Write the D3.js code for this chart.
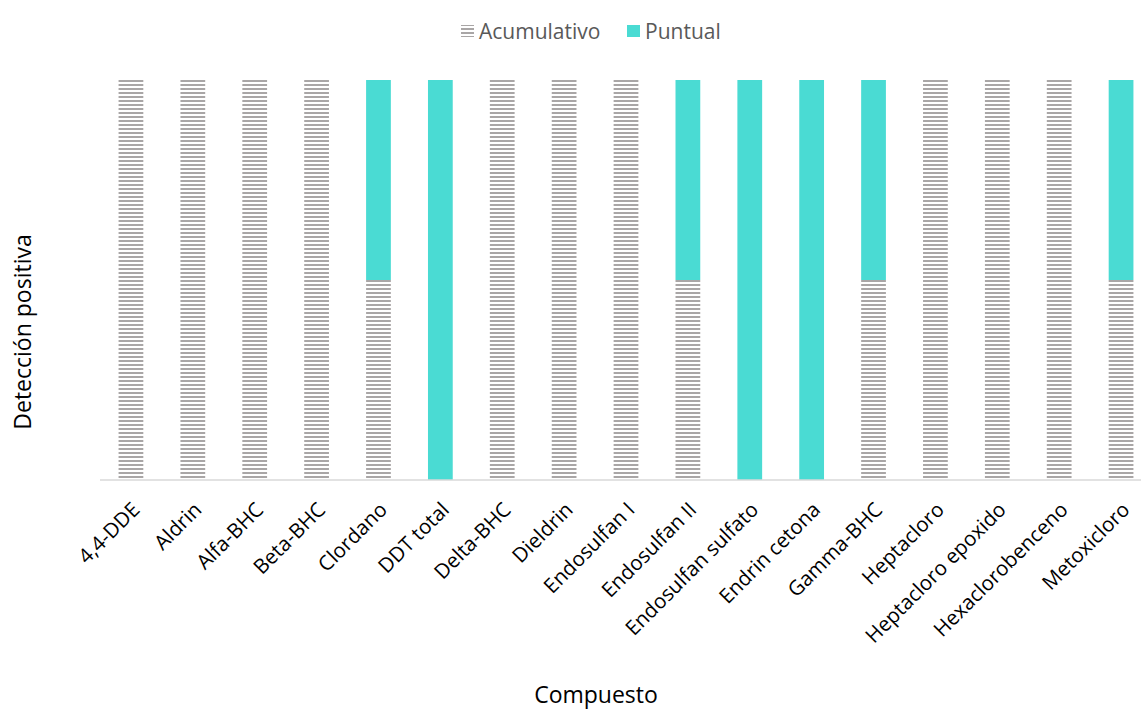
<!DOCTYPE html>
<html>
<head>
<meta charset="utf-8">
<script src="https://cdn.jsdelivr.net/npm/d3@7"></script>
<style>
  html, body { margin: 0; padding: 0; background: #fff; }
  svg { display: block; }
  svg text { font-family: "Open Sans", Lato, sans-serif; }
</style>
</head>
<body>
<svg id="chart" width="1141" height="709"></svg>
<script>
// Compounds on the x axis
const categories = [
  "4,4-DDE", "Aldrin", "Alfa-BHC", "Beta-BHC", "Clordano", "DDT total",
  "Delta-BHC", "Dieldrin", "Endosulfan I", "Endosulfan II", "Endosulfan sulfato",
  "Endrin cetona", "Gamma-BHC", "Heptacloro", "Heptacloro epoxido",
  "Hexaclorobenceno", "Metoxicloro"
];
// Positive-detection share by sampling type
const acumulativo = [1, 1, 1, 1, 0.5, 0, 1, 1, 1, 0.5, 0, 0, 0.5, 1, 1, 1, 0.5];
const puntual     = [0, 0, 0, 0, 0.5, 1, 0, 0, 0, 0.5, 1, 1, 0.5, 0, 0, 0, 0.5];
const seriesNames = ["Acumulativo", "Puntual"];

const svg = d3.select("#chart");
const plot = { left: 100, right: 1152, top: 80, bottom: 480 };

// Horizontal-line fill for the Acumulativo series
const defs = svg.append("defs");
const pat = defs.append("pattern")
  .attr("id", "hlines").attr("patternUnits", "userSpaceOnUse")
  .attr("width", 8).attr("height", 4);
pat.append("rect").attr("width", 8).attr("height", 4).attr("fill", "#ffffff");
pat.append("rect").attr("y", 0).attr("width", 8).attr("height", 2).attr("fill", "#a9a6a6");

const fills = { Acumulativo: "url(#hlines)", Puntual: "#4adbd3" };

const x = d3.scaleBand().domain(categories)
  .range([plot.left, plot.right]).paddingInner(0.6).paddingOuter(0.3);
const y = d3.scaleLinear().domain([0, 1]).range([plot.bottom, plot.top]);

const rows = categories.map((c, i) => ({ cat: c, Acumulativo: acumulativo[i], Puntual: puntual[i] }));
const stacked = d3.stack().keys(seriesNames)(rows);

svg.append("g").selectAll("g").data(stacked).join("g")
  .attr("fill", d => fills[d.key])
  .selectAll("rect").data(d => d).join("rect")
  .attr("x", d => x(d.data.cat))
  .attr("width", x.bandwidth())
  .attr("y", d => y(d[1]))
  .attr("height", d => y(d[0]) - y(d[1]));

// Category axis
const xAxis = svg.append("g").attr("transform", `translate(0,${plot.bottom})`)
  .call(d3.axisBottom(x).tickSize(0).tickPadding(0));
xAxis.attr("font-family", null);
xAxis.select(".domain").attr("stroke", "#d9d9d9").attr("stroke-width", 1.5)
  .attr("d", `M${plot.left},0H${plot.right}`);
xAxis.selectAll(".tick text")
  .attr("font-size", 20.5).attr("fill", "#000")
  .attr("text-anchor", "end")
  .attr("dy", null).attr("y", 0)
  .attr("transform", "translate(10,31) rotate(-45)");

// Axis titles
svg.append("text").attr("x", 596).attr("y", 703)
  .attr("text-anchor", "middle").attr("font-size", 23).attr("fill", "#000")
  .text("Compuesto");
svg.append("text").attr("transform", "translate(31,332) rotate(-90)")
  .attr("text-anchor", "middle").attr("font-size", 23).attr("fill", "#000")
  .text("Detección positiva");

// Legend
const legendItems = [
  { name: "Acumulativo", sx: 461, tx: 479 },
  { name: "Puntual", sx: 627, tx: 645 }
];
const lg = svg.append("g");
legendItems.forEach(it => {
  lg.append("rect").attr("x", it.sx).attr("y", 25).attr("width", 13).attr("height", 12)
    .attr("fill", fills[it.name]);
  lg.append("text").attr("x", it.tx).attr("y", 39)
    .attr("font-size", 21).attr("fill", "#595959").text(it.name);
});
</script>
</body>
</html>
